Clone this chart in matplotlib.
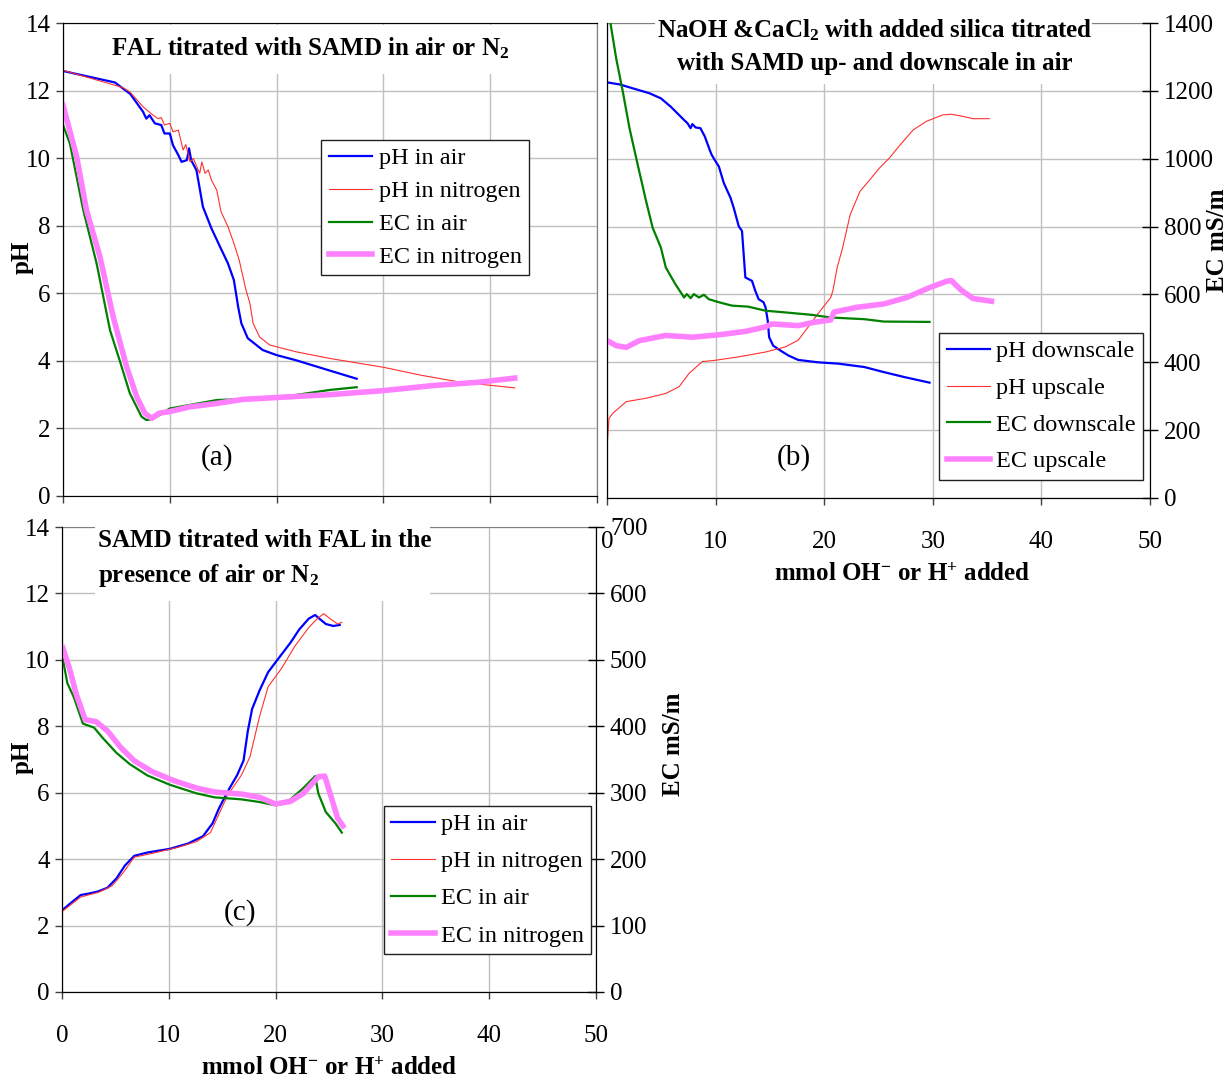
import numpy as np
import matplotlib
matplotlib.use('Agg')
import matplotlib.pyplot as plt
from matplotlib.patches import Rectangle

plt.rcParams['font.family'] = ['Liberation Serif', 'DejaVu Serif']
plt.rcParams['mathtext.fontset'] = 'custom'
plt.rcParams['mathtext.rm'] = 'Liberation Serif'
plt.rcParams['mathtext.bf'] = 'Liberation Serif:bold'
plt.rcParams['mathtext.it'] = 'Liberation Serif:italic'

# ---------- panel (a): FAL titrated with SAMD ----------
a_ph_air_x = [0, 4.86, 6.3, 7.5, 7.8, 8.1, 8.6, 9.2, 9.5, 10.0, 10.3, 10.8, 11.1, 11.6, 11.8,
              12.0, 12.5, 13.1, 13.9, 14.7, 15.45, 16.0, 16.4, 16.7, 17.3, 18.7, 20.0, 21.8,
              25.0, 27.5]
a_ph_air_y = [12.58, 12.24, 11.9, 11.37, 11.17, 11.27, 11.03, 10.98, 10.73, 10.73, 10.38, 10.09,
              9.89, 9.94, 10.29, 9.94, 9.64, 8.56, 7.92, 7.38, 6.88, 6.39, 5.6, 5.11, 4.67, 4.32,
              4.17, 4.02, 3.71, 3.47]
a_ph_n2_x = [0, 5.6, 6.26, 7.5, 8.44, 8.9, 9.2, 9.5, 10.0, 10.3, 10.8, 11.25, 11.5, 11.9, 12.2,
             12.8, 13.0, 13.3, 13.6, 13.9, 14.4, 14.8, 15.45, 16.0, 16.5, 17.1, 17.5, 17.8,
             18.4, 19.35, 21.8, 25.0, 30.0, 33.6, 37.2, 42.3]
a_ph_n2_y = [12.6, 12.09, 11.96, 11.52, 11.27, 11.17, 11.2, 10.98, 11.03, 10.78, 10.83, 10.24,
             10.4, 9.89, 9.99, 9.55, 9.89, 9.55, 9.65, 9.35, 9.05, 8.41, 7.97, 7.48, 6.98, 6.14,
             5.7, 5.11, 4.71, 4.47, 4.27, 4.07, 3.81, 3.57, 3.37, 3.2]
a_ec_air_x = [0, 0.65, 1.9, 3.15, 4.4, 5.3, 6.26, 7.35, 7.8, 8.4, 10.0, 14.4, 18.7, 21.8,
              25.0, 27.5]
a_ec_air_y = [1098, 1043, 846, 688, 491, 402, 304, 235, 225, 227, 259, 284, 289, 299,
              314, 322]
a_ec_n2_x = [0, 1.28, 2.2, 3.46, 4.7, 5.95, 6.9, 7.66, 8.3, 9.0, 10.0, 11.9, 14.4, 16.85,
             25.0, 30.0, 34.7, 39.0, 42.3]
a_ec_n2_y = [1157, 1004, 846, 708, 530, 383, 294, 245, 230, 245, 250, 264, 274, 286,
             300, 312, 327, 337, 349]

# ---------- panel (b): NaOH & CaCl2 with silica ----------
b_ph_down_x = [0, 1.16, 3.9, 4.96, 5.88, 7.1, 7.4, 7.7, 7.86, 8.16, 8.6, 9.0, 9.4, 9.63, 10.0,
               10.3, 10.76, 11.37, 11.67, 12.13, 12.43, 12.74, 13.35, 13.65, 13.96, 14.41,
               14.6, 14.8, 14.93, 15.3, 15.95, 16.7, 17.6, 19.4, 21.3, 23.7, 25.5, 27.3, 29.7]
b_ph_down_y = [12.25, 12.19, 11.93, 11.78, 11.53, 11.14, 11.05, 10.9, 11.02, 10.92, 10.9, 10.66,
               10.31, 10.12, 9.92, 9.77, 9.28, 8.85, 8.55, 8.01, 7.87, 6.5, 6.4, 6.11, 5.86,
               5.77, 5.62, 5.23, 4.74, 4.49, 4.35, 4.2, 4.07, 4.0, 3.96, 3.86, 3.71, 3.57, 3.4]
b_ph_up_x = [0, 0.18, 0.55, 1.77, 3.6, 5.4, 6.64, 7.55, 8.77, 10.0, 12.1, 14.56, 16.4, 17.6,
             18.5, 19.4, 20.6, 20.8, 21.2, 21.7, 22.4, 23.3, 24.2, 25.1, 26.0, 27.0, 28.2,
             29.4, 30.9, 31.7, 32.6, 33.7, 35.2]
b_ph_up_y = [1.47, 2.35, 2.5, 2.84, 2.94, 3.08, 3.28, 3.67, 4.02, 4.06, 4.16, 4.3, 4.45, 4.65,
             5.03, 5.42, 5.91, 6.11, 6.8, 7.38, 8.36, 9.04, 9.38, 9.73, 10.02, 10.41, 10.85,
             11.1, 11.29, 11.31, 11.26, 11.18, 11.18]
b_ec_down_x = [0, 0.3, 0.85, 1.46, 2.07, 2.83, 3.6, 4.2, 4.96, 5.42, 6.3, 7.1, 7.35, 7.7, 8.0,
               8.47, 8.93, 9.37, 10.3, 11.5, 13.0, 14.6, 16.4, 18.8, 20.6, 23.7, 25.5, 29.7]
b_ec_down_y = [1500, 1403, 1295, 1197, 1090, 982, 875, 797, 738, 679, 630, 591, 601, 589, 601,
               591, 599, 586, 577, 567, 564, 552, 547, 540, 532, 527, 520, 519]
b_ec_up_x = [0, 0.85, 1.77, 2.99, 5.4, 7.86, 10.3, 12.74, 14.56, 15.2, 17.6, 19.1, 20.6,
             20.9, 23.0, 25.5, 27.6, 29.7, 31.3, 31.7, 32.6, 33.7, 35.4]
b_ec_up_y = [464, 449, 444, 464, 479, 474, 481, 491, 504, 513, 508, 518, 525,
             548, 562, 572, 591, 620, 639, 641, 613, 588, 580]

# ---------- panel (c): SAMD titrated with FAL ----------
c_ph_air_x = [0.08, 0.9, 1.75, 2.6, 3.4, 4.26, 5.1, 5.9, 6.77, 8.0, 10.1, 11.8, 13.2, 14.1,
              14.7, 15.5, 16.4, 17.0, 17.4, 17.8, 18.5, 19.3, 20.1, 21.4, 22.2, 23.1, 23.7,
              24.1, 24.7, 25.4, 26.0]
c_ph_air_y = [2.48, 2.7, 2.92, 2.97, 3.03, 3.14, 3.42, 3.81, 4.1, 4.2, 4.31, 4.47, 4.69, 5.08,
              5.53, 6.03, 6.53, 6.97, 7.86, 8.52, 9.08, 9.63, 9.97, 10.52, 10.91, 11.24, 11.35,
              11.24, 11.08, 11.02, 11.05]
c_ph_n2_x = [0.08, 1.75, 3.4, 4.7, 5.7, 6.77, 8.4, 10.9, 12.6, 13.9, 14.7, 15.5, 16.8, 17.6,
             18.5, 19.3, 20.55, 21.8, 23.1, 23.9, 24.5, 25.1, 25.8, 26.2]
c_ph_n2_y = [2.44, 2.86, 3.0, 3.2, 3.58, 4.06, 4.17, 4.36, 4.53, 4.8, 5.36, 5.92, 6.53, 7.08,
             8.3, 9.19, 9.74, 10.41, 10.97, 11.24, 11.39, 11.24, 11.08, 11.13]
c_ec_air_x = [0.08, 0.5, 1.13, 1.96, 3.0, 3.84, 5.1, 6.35, 8.0, 10.1, 12.6, 14.3, 16.8, 18.5,
              20.0, 21.4, 22.6, 23.7, 24.0, 24.7, 25.6, 26.2]
c_ec_air_y = [501, 465, 443, 404, 398, 382, 360, 343, 326, 312, 299, 293, 290, 286,
              281, 290, 307, 325, 299, 271, 254, 240]
c_ec_n2_x = [0.08, 0.7, 1.34, 2.17, 3.2, 4.26, 5.5, 6.77, 8.4, 10.5, 12.6, 14.3, 16.8, 18.5,
             20.0, 21.4, 22.6, 24.0, 24.6, 25.1, 25.8, 26.3]
c_ec_n2_y = [518, 487, 448, 410, 407, 393, 368, 348, 332, 318, 307, 301, 298, 293,
             283, 287, 299, 324, 325, 299, 262, 250]

xticks = [0, 10, 20, 30, 40, 50]
ph_ticks = [0, 2, 4, 6, 8, 10, 12, 14]

BLUE = '#0000ff'
RED = '#ff3030'
GREEN = '#008000'
VIOLET = '#ff80ff'
GRID = '#c0c0c0'
BORDER = '#808080'
FS = 18

xlab = r'mmol OH$^{\mathbf{-}}$ or H$^{\mathbf{+}}$ added'

fig = plt.figure(figsize=(12.31, 10.79), dpi=100)
W, H = 1231.0, 1079.0


def box(l, r, t, b):
    return [l / W, 1 - b / H, (r - l) / W, (b - t) / H]


def base_axes(ax):
    ax.set_xlim(0, 50)
    ax.set_ylim(0, 14)
    ax.set_xticks(xticks)
    ax.set_yticks(ph_ticks)
    ax.grid(True, color=GRID, lw=1.0)
    ax.set_axisbelow(True)
    ax.tick_params(labelsize=FS, direction='out', length=5, width=1, color='#404040')
    ax.tick_params(axis='x', pad=19)
    ax.tick_params(axis='y', pad=4)
    for s in ['top', 'right']:
        ax.spines[s].set_color(BORDER)


def legend(ax, handles, labels, loc, spacing):
    lg = ax.legend(handles, labels, loc='upper left', bbox_to_anchor=loc, fontsize=17.5,
                   frameon=True, fancybox=False, framealpha=1, edgecolor='#202020',
                   borderpad=0.3, labelspacing=spacing, handlelength=1.8, handletextpad=0.25,
                   borderaxespad=0)
    lg.get_frame().set_linewidth(1.0)
    return lg


def title_box(ax, x0, y0, x1, y1):
    ax.add_patch(Rectangle((x0, y0), x1 - x0, y1 - y0, transform=ax.transAxes,
                           facecolor='white', edgecolor='none', zorder=3, clip_on=False))


# ---- panel (b) ----
axb = fig.add_axes(box(607, 1150, 23, 498))
base_axes(axb)
axb.set_yticklabels([])
axb.tick_params(axis='y', length=0)
axb.spines['right'].set_color('black')
axb.set_xlabel(xlab, fontsize=FS, fontweight='bold')
axb.xaxis.set_label_coords(0.543, -0.136)
l1, = axb.plot(b_ph_down_x, b_ph_down_y, color=BLUE, lw=1.6, zorder=4)
l2, = axb.plot(b_ph_up_x, b_ph_up_y, color=RED, lw=0.8, zorder=4)
axb2 = axb.twinx()
axb2.set_ylim(0, 1400)
axb2.set_yticks(range(0, 1401, 200))
axb2.tick_params(labelsize=FS, direction='inout', length=12, width=1, pad=4)
axb2.spines['right'].set_color('black')
axb2.spines['top'].set_visible(False)
l3, = axb2.plot(b_ec_down_x, b_ec_down_y, color=GREEN, lw=1.6)
l4, = axb2.plot(b_ec_up_x, b_ec_up_y, color=VIOLET, lw=4)
axb2.set_ylabel('EC mS/m', fontsize=FS, fontweight='bold')
axb2.yaxis.set_label_coords(1.103, 0.543)
title_box(axb2, 0.089, 0.872, 0.893, 1.03)
axb2.text(0.494, 0.952, 'NaOH &CaCl$_\\mathbf{2}$ with added silica titrated\nwith SAMD up- and downscale in air',
          transform=axb2.transAxes, ha='center', va='center', fontsize=FS, fontweight='bold',
          linespacing=1.5, zorder=5)
axb2.text(17.2, 120, '(b)', fontsize=21, ha='center', va='center')
legend(axb2, [l1, l2, l3, l4], ['pH downscale', 'pH upscale', 'EC downscale', 'EC upscale'],
       (0.612, 0.347), 0.6)

# ---- panel (a) ----
axa = fig.add_axes(box(63, 597, 23, 496))
base_axes(axa)
axa.set_xticklabels([])
axa.spines['bottom'].set_color(BORDER)
axa.set_ylabel('pH', fontsize=FS, fontweight='bold')
axa.yaxis.set_label_coords(-0.055, 0.505)
m1, = axa.plot(a_ph_air_x, a_ph_air_y, color=BLUE, lw=1.6)
m2, = axa.plot(a_ph_n2_x, a_ph_n2_y, color=RED, lw=0.8)
axa2 = axa.twinx()
axa2.set_ylim(0, 1400)
axa2.set_yticks([])
axa2.spines['right'].set_color(BORDER)
m3, = axa2.plot(a_ec_air_x, a_ec_air_y, color=GREEN, lw=1.6)
m4, = axa2.plot(a_ec_n2_x, a_ec_n2_y, color=VIOLET, lw=4)
title_box(axa2, 0.069, 0.892, 0.864, 0.995)
axa2.text(0.462, 0.947, 'FAL titrated with SAMD in air or N$_\\mathbf{2}$', transform=axa2.transAxes,
          ha='center', va='center', fontsize=FS, fontweight='bold', zorder=5)
axa2.text(14.4, 114, '(a)', fontsize=21, ha='center', va='center')
legend(axa2, [m1, m2, m3, m4], ['pH in air', 'pH in nitrogen', 'EC in air', 'EC in nitrogen'],
       (0.484, 0.753), 0.45)

# ---- panel (c) ----
axc = fig.add_axes(box(62, 596, 527, 992))
base_axes(axc)
axc.spines['right'].set_color('black')
axc.set_ylabel('pH', fontsize=FS, fontweight='bold')
axc.yaxis.set_label_coords(-0.053, 0.505)
axc.set_xlabel(xlab, fontsize=FS, fontweight='bold', labelpad=7)
n1, = axc.plot(c_ph_air_x, c_ph_air_y, color=BLUE, lw=1.6, zorder=4)
n2, = axc.plot(c_ph_n2_x, c_ph_n2_y, color=RED, lw=0.8, zorder=4)
axc2 = axc.twinx()
axc2.set_ylim(0, 700)
axc2.set_yticks(range(0, 701, 100))
axc2.tick_params(labelsize=FS, direction='inout', length=12, width=1, pad=4)
axc2.spines['top'].set_visible(False)
n3, = axc2.plot(c_ec_air_x, c_ec_air_y, color=GREEN, lw=1.6)
n4, = axc2.plot(c_ec_n2_x, c_ec_n2_y, color=VIOLET, lw=4)
axc2.set_ylabel('EC mS/m', fontsize=FS, fontweight='bold')
axc2.yaxis.set_label_coords(1.124, 0.533)
title_box(axc2, 0.062, 0.84, 0.689, 1.02)
axc2.text(0.067, 0.931, 'SAMD titrated with FAL in the\npresence of air or N$_\\mathbf{2}$',
          transform=axc2.transAxes, ha='left', va='center', fontsize=FS, fontweight='bold',
          linespacing=1.5, zorder=5)
axc2.text(16.7, 120, '(c)', fontsize=21, ha='center', va='center')
legend(axc2, [n1, n2, n3, n4], ['pH in air', 'pH in nitrogen', 'EC in air', 'EC in nitrogen'],
       (0.603, 0.4), 0.62)

fig.savefig('out.png', dpi=100)
